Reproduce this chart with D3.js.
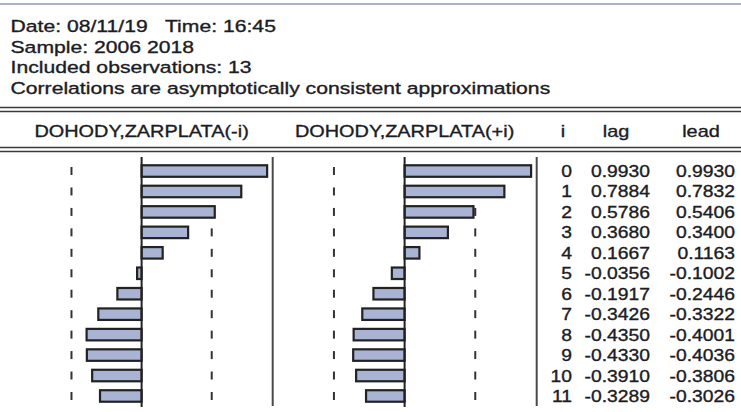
<!DOCTYPE html>
<html>
<head>
<meta charset="utf-8">
<script src="https://cdn.jsdelivr.net/npm/d3@7"></script>
<style>
  body { margin: 0; background: #fff; }
  text { font-family: "Liberation Sans", Arial, sans-serif; fill: #1c1c24; stroke: #1c1c24; stroke-width: 0.35px; white-space: pre; }
</style>
</head>
<body>
<div id="chart"></div>
<script>
// header text of the output
const headerLines = [
        'Date: 08/11/19   Time: 16:45',
        'Sample: 2006 2018',
        'Included observations: 13',
        'Correlations are asymptotically consistent approximations'
];
const columnLabels = ['DOHODY,ZARPLATA(-i)', 'DOHODY,ZARPLATA(+i)', 'i', 'lag', 'lead'];

// cross correlations
const lags = [0, 1, 2, 3, 4, 5, 6, 7, 8, 9, 10, 11];
const lagValues = [0.9930, 0.7884, 0.5786, 0.3680, 0.1667, -0.0356, -0.1917, -0.3426, -0.4350, -0.4330, -0.3910, -0.3289];
const leadValues = [0.9930, 0.7832, 0.5406, 0.3400, 0.1163, -0.1002, -0.2446, -0.3322, -0.4001, -0.4036, -0.3806, -0.3026];
const observations = 13;

const width = 741, height = 412;
const stretch = 1.245, tableStretch = 1.17;

const svg = d3.select('#chart').append('svg')
        .attr('width', width)
        .attr('height', height);

svg.append('rect').attr('width', width).attr('height', height).attr('fill', '#fff');

// top border
svg.append('line')
        .attr('x1', 0).attr('x2', width).attr('y1', 4).attr('y2', 4)
        .attr('stroke', '#aab3c4').attr('stroke-width', 2);

const headerY = d3.scalePoint().domain(d3.range(headerLines.length)).range([32, 93.5]);
svg.selectAll('text.header')
        .data(headerLines)
        .join('text')
        .attr('class', 'header')
        .attr('xml:space', 'preserve')
        .attr('transform', (d, i) => `translate(10.5,${headerY(i)}) scale(${stretch},1)`)
        .attr('font-size', 17)
        .text(d => d);

// double rules
const doubleRule = y => {
        [y, y + 4].forEach(yy => svg.append('line')
                .attr('x1', 0).attr('x2', width).attr('y1', yy).attr('y2', yy)
                .attr('stroke', '#3a3a3a').attr('stroke-width', 1.6));
};
doubleRule(107.5);
doubleRule(147.5);

const y = d3.scaleBand().domain(lags).range([160.8, 406.2]);
const rowMid = d => y(d) + y.bandwidth() / 2;
const barH = 11.5;
const band = 2 / Math.sqrt(observations);

const panels = [
        { label: columnLabels[0], values: lagValues, x: d3.scaleLinear().domain([-1.037, 1.037]).range([10.5, 272.7]) },
        { label: columnLabels[1], values: leadValues, x: d3.scaleLinear().domain([-1.037, 1.037]).range([272.5, 536.7]) }
];

panels.forEach(p => {
        const g = svg.append('g');
        const x0 = p.x(0);

        g.append('text')
                .attr('transform', `translate(${x0},136.5) scale(${tableStretch},1)`)
                .attr('text-anchor', 'middle')
                .attr('font-size', 17)
                .text(p.label);

        // significance marks
        [-band, band].forEach(b => {
                g.selectAll(null)
                        .data(lags)
                        .join('line')
                        .attr('x1', p.x(b)).attr('x2', p.x(b))
                        .attr('y1', d => rowMid(d) - 4).attr('y2', d => rowMid(d) + 4)
                        .attr('stroke', '#333').attr('stroke-width', 2);
        });

        // right border
        g.append('line')
                .attr('x1', p.x(1.037)).attr('x2', p.x(1.037))
                .attr('y1', 157).attr('y2', 406)
                .attr('stroke', '#4a4a4a').attr('stroke-width', 2);

        g.selectAll('rect')
                .data(lags)
                .join('rect')
                .attr('x', d => Math.min(x0, p.x(p.values[d])))
                .attr('width', d => Math.abs(p.x(p.values[d]) - x0))
                .attr('y', d => rowMid(d) - barH / 2)
                .attr('height', barH)
                .attr('fill', '#a9b3d3')
                .attr('stroke', '#222')
                .attr('stroke-width', 2.2);

        g.append('line')
                .attr('x1', x0).attr('x2', x0)
                .attr('y1', 157).attr('y2', 407)
                .attr('stroke', '#222').attr('stroke-width', 2);
});

// table
const fmt = d3.formatLocale({ decimal: '.', thousands: ',', grouping: [3], currency: ['', ''], minus: '-' }).format('.4f');
const cols = [
        { label: columnLabels[2], head: 563, right: 572, get: d => String(d) },
        { label: columnLabels[3], head: 616, right: 650, get: d => fmt(lagValues[d]) },
        { label: columnLabels[4], head: 701, right: 735, get: d => fmt(leadValues[d]) }
];

cols.forEach(c => {
        svg.append('text')
                .attr('transform', `translate(${c.head},136.5) scale(${tableStretch},1)`)
                .attr('text-anchor', 'middle')
                .attr('font-size', 17)
                .text(c.label);

        svg.selectAll(null)
                .data(lags)
                .join('text')
                .attr('transform', d => `translate(${c.right},${rowMid(d) + 6}) scale(${tableStretch},1)`)
                .attr('text-anchor', 'end')
                .attr('font-size', 16.5)
                .text(c.get);
});
</script>
</body>
</html>
